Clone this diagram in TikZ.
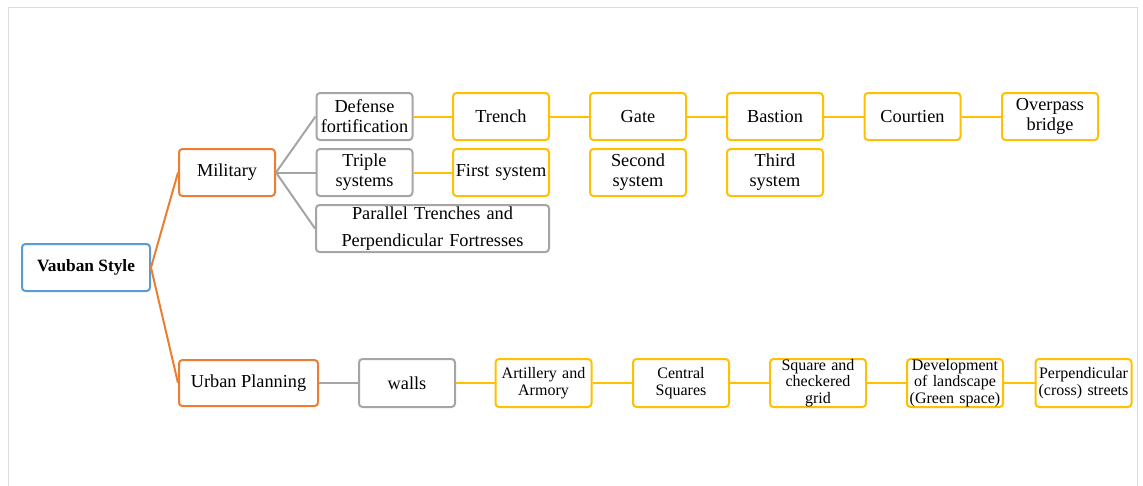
\documentclass[tikz,border=0pt]{standalone}
\usepackage{fontspec}
\setmainfont{Liberation Serif}
\definecolor{cblue}{HTML}{5B9BD5}
\definecolor{corange}{HTML}{ED7D31}
\definecolor{cgray}{HTML}{A5A5A5}
\definecolor{cgold}{HTML}{FFC000}
\definecolor{cframe}{HTML}{DCDCDC}
\begin{document}
\begin{tikzpicture}[x=1pt,y=-1pt,
  box/.style={draw,rounded corners=3.5pt,line width=2pt,fill=white,inner sep=0pt,
    align=center,minimum height=47pt,font=\fontsize{18.3}{20}\selectfont},
  bw/.style={minimum width=96pt,text width=96pt},
  sbox/.style={box,bw,font=\fontsize{16}{16.7}\selectfont},
  bluebox/.style={box,draw=cblue},
  orbox/.style={box,draw=corange},
  grbox/.style={box,draw=cgray},
  gobox/.style={box,draw=cgold},
  link/.style={line width=2pt},
]
\useasboundingbox (0,0) rectangle (1143,485);
\draw[cframe,line width=1pt] (8,490) -- (8,7) -- (1137,7) -- (1137,490);

\node[bluebox,minimum width=128pt,font=\fontsize{17.3}{20}\selectfont\bfseries] (vauban) at (86,267.5) {Vauban Style};
\node[orbox,bw] (military) at (227,172.5) {Military};
\node[orbox,minimum width=139pt,minimum height=46pt] (urban) at (248.5,383) {Urban Planning};

\node[grbox,bw] (defense) at (364.5,116.5) {Defense\\fortification};
\node[grbox,bw] (triple) at (364.5,172.5) {Triple\\systems};
\node[grbox,minimum width=233pt,text width=233pt,font=\fontsize{18.3}{27}\selectfont] (parallel) at (432.5,228.5) {Parallel Trenches and\\Perpendicular Fortresses};

\node[gobox,bw] (trench) at (501,116.5) {Trench};
\node[gobox,bw] (first) at (501,172.5) {First system};
\node[gobox,bw] (gate) at (638,116.5) {Gate};
\node[gobox,bw] (second) at (638,172.5) {Second\\system};
\node[gobox,bw] (bastion) at (775,116.5) {Bastion};
\node[gobox,bw] (third) at (775,172.5) {Third\\system};
\node[gobox,bw] (courtien) at (912.5,116.5) {Courtien};
\node[gobox,bw] (overpass) at (1050,116.5) {Overpass\\bridge};

\node[grbox,bw,minimum height=48pt] (walls) at (407,383) {walls};
\node[sbox,draw=cgold,minimum height=48pt] (artillery) at (543.5,383) {Artillery and\\Armory};
\node[sbox,draw=cgold,minimum height=48pt] (central) at (681,383) {Central\\Squares};
\node[sbox,draw=cgold,minimum height=48pt] (square) at (818,383) {Square and\\checkered\\grid};
\node[sbox,draw=cgold,minimum height=48pt] (development) at (955,383) {Development\\of landscape\\(Green space)};
\node[sbox,draw=cgold,minimum height=48pt] (perp) at (1083.5,383) {Perpendicular\\(cross) streets};

\draw[link,corange] (vauban.east) -- (military.west);
\draw[link,corange] (vauban.east) -- (urban.west);
\draw[link,cgray] (military.east) -- (defense.west);
\draw[link,cgray] (military.east) -- (triple.west);
\draw[link,cgray] (military.east) -- (parallel.west);
\draw[link,cgray] (urban.east) -- (walls.west);
\draw[link,cgold] (defense.east) -- (trench.west);
\draw[link,cgold] (trench.east) -- (gate.west);
\draw[link,cgold] (gate.east) -- (bastion.west);
\draw[link,cgold] (bastion.east) -- (courtien.west);
\draw[link,cgold] (courtien.east) -- (overpass.west);
\draw[link,cgold] (triple.east) -- (first.west);
\draw[link,cgold] (walls.east) -- (artillery.west);
\draw[link,cgold] (artillery.east) -- (central.west);
\draw[link,cgold] (central.east) -- (square.west);
\draw[link,cgold] (square.east) -- (development.west);
\draw[link,cgold] (development.east) -- (perp.west);
\end{tikzpicture}
\end{document}
